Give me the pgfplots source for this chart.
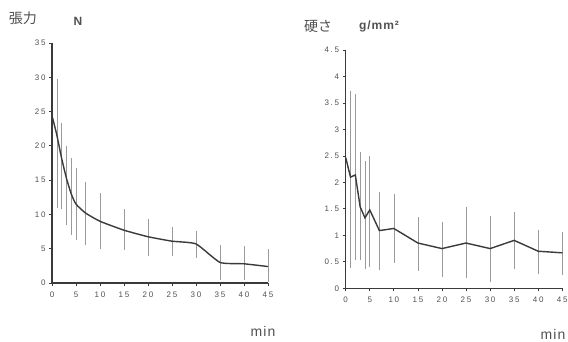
\documentclass[border=0pt]{standalone}
\usepackage{pgfplots}
\pgfplotsset{compat=1.18}
\usepackage{pgfplotstable}
\usepackage{fontspec}
\setmainfont{Liberation Sans}
\newfontfamily\cjk{Noto Sans CJK JP}
\newfontfamily\tickfont[LetterSpace=22]{Liberation Sans}
\newfontfamily\unitfont[LetterSpace=8]{Liberation Sans}
\definecolor{txt}{HTML}{505050}
\definecolor{linec}{HTML}{3A3A3A}
\definecolor{barc}{HTML}{9A9A9A}

\pgfplotstableread{
t m
0 24.4
1 21.6
2 18.2
3 15.3
4 13.0
5 11.5
7 10.2
10 9.0
15 7.7
20 6.75
25 6.1
30 5.7
35 3.0
40 2.8
45 2.4
}\leftmean
\pgfplotstableread{
t m hi lo
1 21.6 29.7 11.0
2 18.2 23.4 10.8
3 15.3 20.0 8.5
4 13.0 18.3 7.0
5 11.5 16.7 6.2
7 10.2 14.8 5.5
10 9.0 13.1 5.0
15 7.7 10.8 4.8
20 6.75 9.3 3.9
25 6.1 8.1 4.0
30 5.7 7.6 3.6
35 3.0 5.5 0.4
40 2.8 5.4 0.4
45 2.4 5.0 0.1
}\leftbars
\pgfplotstableread{
t m
0 2.47
1 2.10
2 2.14
3 1.54
4 1.33
5 1.48
7 1.09
10 1.13
15 0.855
20 0.75
25 0.855
30 0.75
35 0.905
40 0.70
45 0.67
}\rightmean
\pgfplotstableread{
t m hi lo
1 2.10 3.72 0.39
2 2.14 3.67 0.54
3 1.54 2.58 0.54
4 1.33 2.40 0.36
5 1.48 2.50 0.40
7 1.09 1.81 0.34
10 1.13 1.79 0.47
15 0.855 1.34 0.33
20 0.75 1.25 0.22
25 0.855 1.53 0.20
30 0.75 1.37 0.12
35 0.905 1.44 0.36
40 0.70 1.10 0.27
45 0.67 1.06 0.25
}\rightbars

\pgfplotsset{
  mystyle/.style={
    scale only axis,
    axis lines*=left,
    axis line style={draw=linec, line width=1.3pt, -},
    xmin=0, xmax=45, ymin=0,
    enlargelimits=false,
    xtick={0,5,...,45},
    tick align=outside,
    major tick length=3pt,
    tick style={draw=linec, line width=0.8pt},
    ticklabel style={font=\tickfont\fontsize{8}{9}\selectfont, text=txt},
    xticklabel style={yshift=-2pt},
    /pgf/number format/assume math mode=true,
    clip=false,
  },
  barstyle/.style={
    draw=none, mark=none,
    error bars/.cd, y dir=both, y explicit, error mark=none,
    error bar style={draw=barc, solid, line width=0.6pt},
  },
}

\begin{document}
\begin{tikzpicture}[x=1pt,y=1pt]
\path[use as bounding box] (0,0) rectangle (568,341);

\begin{axis}[mystyle, at={(52pt,58pt)}, anchor=south west,
  width=216pt, height=240pt, ymax=35, ytick={0,5,...,35}]
\addplot[barstyle] table[x=t, y=m,
  y error plus expr=\thisrow{hi}-\thisrow{m},
  y error minus expr=\thisrow{m}-\thisrow{lo}] {\leftbars};
\addplot[draw=linec, line width=1.4pt, mark=none, smooth, tension=0.3] table[x=t,y=m] {\leftmean};
\end{axis}

\begin{axis}[mystyle, at={(345.7pt,52.7pt)}, anchor=south west,
  width=216.6pt, height=238.3pt, ymax=4.5, ytick={0,0.5,...,4.5}]
\addplot[barstyle] table[x=t, y=m,
  y error plus expr=\thisrow{hi}-\thisrow{m},
  y error minus expr=\thisrow{m}-\thisrow{lo}] {\rightbars};
\addplot[draw=linec, line width=1.4pt, mark=none] table[x=t,y=m] {\rightmean};
\end{axis}

\node[text=txt, font=\cjk\fontsize{14}{16}\selectfont] at (23,323) {張力};
\node[text=txt, font=\fontsize{12}{14}\selectfont\bfseries] at (78,320) {N};
\node[text=txt, font=\cjk\fontsize{14}{16}\selectfont] at (318,315) {硬さ};
\node[text=txt, font=\unitfont\fontsize{12}{14}\selectfont\bfseries] at (379,315) {g/mm²};
\node[text=txt, font=\unitfont\fontsize{14}{16}\selectfont] at (263,10) {min};
\node[text=txt, font=\unitfont\fontsize{14}{16}\selectfont] at (553,7) {min};
\end{tikzpicture}
\end{document}
